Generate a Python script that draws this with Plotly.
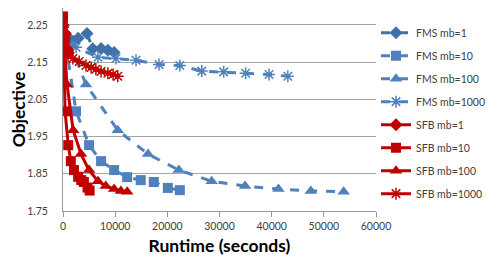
import plotly.graph_objects as go

# ---- data ----
fms1_x = [0, 770, 1900, 2900, 4600, 5700, 7300, 8600, 9800]
fms1_y = [2.249, 2.219, 2.206, 2.214, 2.227, 2.186, 2.187, 2.182, 2.176]

fms10_x = [0, 2500, 5000, 7300, 9800, 12300, 14900, 17400, 20100, 22400]
fms10_y = [2.249, 2.018, 1.927, 1.884, 1.860, 1.841, 1.833, 1.828, 1.812, 1.806]

fms100_x = [0, 4400, 10500, 16300, 22200, 28500, 34900, 41300, 47500, 53800]
fms100_y = [2.249, 2.090, 1.967, 1.903, 1.860, 1.830, 1.817, 1.809, 1.804, 1.802]

fms1000_x = [0, 2500, 6700, 10150, 14000, 18400, 22400, 26600, 30800, 35000, 39500, 43100]
fms1000_y = [2.249, 2.190, 2.163, 2.160, 2.155, 2.144, 2.141, 2.126, 2.124, 2.120, 2.117, 2.112]

sfb1_x = [0, 80, 200, 300, 450, 550, 700, 850, 1000]
sfb1_y = [2.249, 2.219, 2.206, 2.214, 2.227, 2.186, 2.187, 2.182, 2.176]

sfb10_x = [0, 400, 1000, 1500, 2100, 2900, 3500, 4000, 4700, 5100]
sfb10_y = [2.273, 2.018, 1.927, 1.884, 1.860, 1.842, 1.833, 1.828, 1.813, 1.805]

sfb100_x = [0, 770, 1950, 3450, 5000, 6700, 8200, 9800, 11100, 12300]
sfb100_y = [2.249, 2.090, 1.967, 1.903, 1.860, 1.830, 1.817, 1.809, 1.804, 1.802]

sfb1000_x = [0, 200, 570, 960, 1900, 3100, 4400, 5400, 6300, 7300, 8600, 9600, 10500]
sfb1000_y = [2.249, 2.200, 2.179, 2.168, 2.160, 2.152, 2.141, 2.136, 2.131, 2.125, 2.120, 2.117, 2.112]

x_ticks = [0, 10000, 20000, 30000, 40000, 50000, 60000]
y_ticks = [1.75, 1.85, 1.95, 2.05, 2.15, 2.25]

DARK_BLUE = "#4070AA"
BLUE = "#4F81BD"
RED = "#C00000"
FONT = "Lato"

series = [
    ("FMS mb=1", fms1_x, fms1_y, DARK_BLUE, "diamond", "dash", 10),
    ("FMS mb=10", fms10_x, fms10_y, BLUE, "square", "dash", 10),
    ("FMS mb=100", fms100_x, fms100_y, BLUE, "triangle-up", "dash", 11),
    ("FMS mb=1000", fms1000_x, fms1000_y, BLUE, "asterisk-open", "dash", 10),
    ("SFB mb=1", sfb1_x, sfb1_y, RED, "diamond", "solid", 10),
    ("SFB mb=10", sfb10_x, sfb10_y, RED, "square", "solid", 10),
    ("SFB mb=100", sfb100_x, sfb100_y, RED, "triangle-up", "solid", 11),
    ("SFB mb=1000", sfb1000_x, sfb1000_y, RED, "asterisk-open", "solid", 10),
]

fig = go.Figure()
for i, (name, xs, ys, col, sym, dash, size) in enumerate(series):
    fig.add_trace(go.Scatter(
        x=xs, y=ys, name=name, mode="lines+markers",
        legendgroup=f"g{i}",
        line=dict(color=col, width=3, dash=dash),
        marker=dict(symbol=sym, size=size, color=col,
                    line=dict(color=col, width=1.5 if "asterisk" in sym else 0)),
    ))

fig.update_layout(
    width=498, height=258,
    margin=dict(l=55, r=130, t=0, b=55),
    paper_bgcolor="white", plot_bgcolor="white",
    font=dict(family=FONT, size=11, color="#404040"),
    showlegend=True,
    legend=dict(x=1.0, xanchor="left", y=0.95, yanchor="top",
                font=dict(family=FONT, size=10.5, color="#404040"),
                tracegroupgap=4, bgcolor="rgba(0,0,0,0)"),
    xaxis=dict(range=[0, 60000], tickvals=x_ticks, ticktext=[str(v) for v in x_ticks],
               automargin=False,
               showgrid=False, zeroline=False, showline=True, linecolor="#9A9A9A",
               linewidth=1, ticks="outside", ticklen=5, tickcolor="#9A9A9A",
               tickfont=dict(family=FONT, size=10.5, color="#404040"),
               title=dict(text="<b>Runtime (seconds)</b>", standoff=9,
                          font=dict(family=FONT, size=17.5, color="black"))),
    yaxis=dict(range=[1.75, 2.2956], tickvals=y_ticks, ticktext=[f"{v:.2f}" for v in y_ticks],
               automargin=False,
               showgrid=True, gridcolor="#A6A6A6", gridwidth=1, zeroline=False,
               showline=True, linecolor="#9A9A9A", linewidth=1, ticks="",
               ticklabelstandoff=12,
               tickfont=dict(family=FONT, size=10.5, color="#404040"),
               title=dict(text="<b>Objective</b>", standoff=7,
                          font=dict(family=FONT, size=17.5, color="black"))),
)

fig.write_html("out.html")
